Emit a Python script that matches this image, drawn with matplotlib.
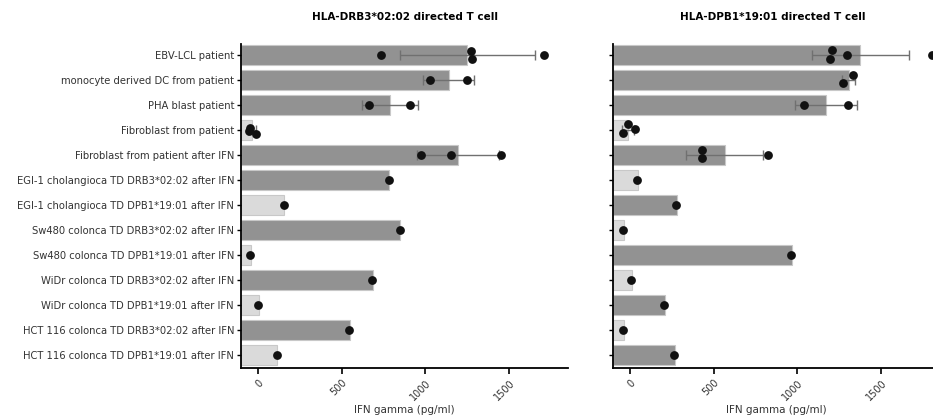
import numpy as np
import matplotlib
matplotlib.use("Agg")
import matplotlib.pyplot as plt

# ---------- data ----------
categories = [
    "EBV-LCL patient",
    "monocyte derived DC from patient",
    "PHA blast patient",
    "Fibroblast from patient",
    "Fibroblast from patient after IFN",
    "EGI-1 cholangioca TD DRB3*02:02 after IFN",
    "EGI-1 cholangioca TD DPB1*19:01 after IFN",
    "Sw480 colonca TD DRB3*02:02 after IFN",
    "Sw480 colonca TD DPB1*19:01 after IFN",
    "WiDr colonca TD DRB3*02:02 after IFN",
    "WiDr colonca TD DPB1*19:01 after IFN",
    "HCT 116 colonca TD DRB3*02:02 after IFN",
    "HCT 116 colonca TD DPB1*19:01 after IFN",
]

# left panel: HLA-DRB3*02:02 directed T cell
drb3_mean = [1250, 1140, 788, -35, 1195, 785, 158, 850, -42, 685, 5, 550, 115]
drb3_sd = [404, 152, 166, 22, 243, 0, 0, 0, 0, 0, 0, 0, 0]
drb3_points = [[734, 1270, 1280, 1705], [1030, 1245], [665, 905], [-46, -50, -10],
               [973, 1150, 1453], [783], [155], [847], [-46], [681], [-1], [546], [112]]
drb3_light = [3, 6, 8, 10, 12]

# right panel: HLA-DPB1*19:01 directed T cell
dpb1_mean = [1375, 1305, 1172, -10, 565, 52, 283, -32, 970, 14, 212, -35, 272]
dpb1_sd = [288, 40, 184, 35, 228, 0, 0, 0, 0, 0, 0, 0, 0]
dpb1_points = [[1206, 1194, 1294, 1800], [1330, 1274], [1042, 1302], [-10, -40, 30],
               [430, 428, 824], [46], [278], [-38], [964], [8], [206], [-42], [266]]
dpb1_light = [3, 5, 7, 9, 11]

# vertical scatter of overlapping replicate dots (row units)
drb3_jitter = [[0, -0.16, 0.16, 0], [0, 0], [0, 0], [-0.1, 0.02, 0.14],
               [0, 0, 0], [0], [0], [0], [0], [0], [0], [0], [0]]
dpb1_jitter = [[-0.2, 0.16, 0, 0], [-0.2, 0.13], [0, 0], [-0.23, 0.1, -0.04],
               [-0.2, 0.13, 0], [0], [0], [0], [0], [0], [0], [0], [0]]

xticks = [0, 500, 1000, 1500]
XMIN, XMAX = -100, 1850

DARK = "#929292"
LIGHT = "#dadada"
plt.rcParams["font.family"] = "DejaVu Sans"

fig = plt.figure(figsize=(9.33, 4.2), dpi=100)
ax_l = fig.add_axes([0.2583, 0.1238, 0.3505, 0.7714])
ax_r = fig.add_axes([0.657, 0.1238, 0.3505, 0.7714])


def draw_panel(ax, title, means, sds, points, jitter, light_rows):
    y = np.arange(len(means))
    colors = [LIGHT if i in light_rows else DARK for i in y]
    widths = [m - XMIN for m in means]
    ax.barh(y, widths, left=XMIN, height=0.8, color=colors,
            edgecolor="#c8c8c8", linewidth=0.8, zorder=1)
    for i in y:
        if sds[i] > 0:
            ax.errorbar(means[i], i, xerr=sds[i], fmt="none", ecolor="#707070",
                        elinewidth=1, capsize=3.5, capthick=1, zorder=2)
        ax.scatter(points[i], np.array(jitter[i]) + i, s=40, color="#111111",
                   zorder=3, linewidths=0)
    ax.set_xlim(XMIN, XMAX)
    ax.set_ylim(12.52, -0.44)
    ax.set_yticks(y)
    ax.set_xticks(xticks)
    ax.set_xticklabels([str(t) for t in xticks], rotation=45, ha="right",
                       va="top", rotation_mode="anchor", fontsize=7, color="#333333")
    ax.tick_params(axis="x", length=4, width=1.2, pad=3)
    ax.tick_params(axis="y", length=3, width=1.0, labelsize=7.2, labelcolor="#333333", pad=2)
    for s in ["top", "right"]:
        ax.spines[s].set_visible(False)
    for s in ["left", "bottom"]:
        ax.spines[s].set_linewidth(1.3)
    ax.set_xlabel("IFN gamma (pg/ml)", fontsize=7.5, color="#333333", va="center")
    ax.xaxis.set_label_coords(0.5, -0.13)
    ax.set_title(title, fontsize=7.5, fontweight="bold", pad=17)


draw_panel(ax_l, "HLA-DRB3*02:02 directed T cell", drb3_mean, drb3_sd,
           drb3_points, drb3_jitter, drb3_light)
ax_l.set_yticklabels(categories)

draw_panel(ax_r, "HLA-DPB1*19:01 directed T cell", dpb1_mean, dpb1_sd,
           dpb1_points, dpb1_jitter, dpb1_light)
ax_r.set_yticklabels([])
# right title sits over the visible part of the panel
ax_r.title.set_position((0.49, 1.0))

fig.savefig("out.png", dpi=100)
